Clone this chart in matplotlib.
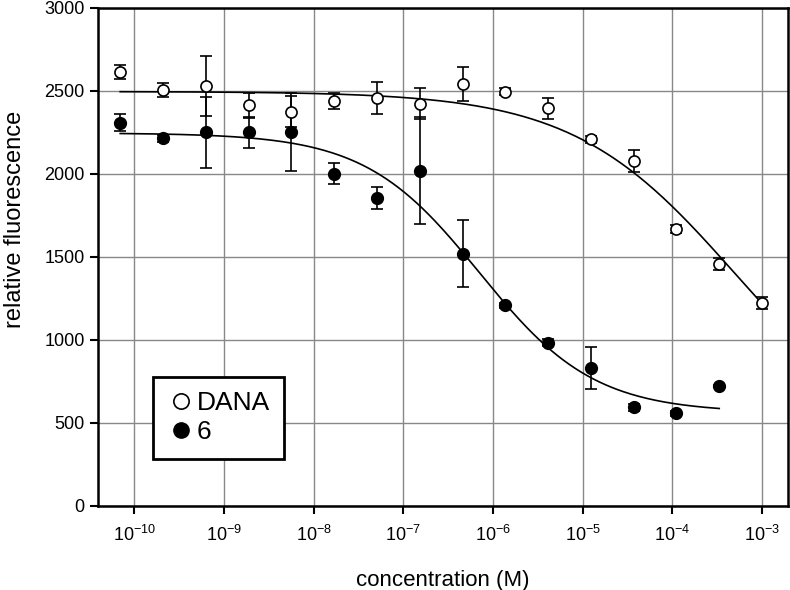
import numpy as np
import matplotlib.pyplot as plt
from matplotlib.lines import Line2D

plt.rcParams['font.family'] = ['Liberation Sans', 'DejaVu Sans']
plt.rcParams['mathtext.fontset'] = 'custom'
plt.rcParams['mathtext.rm'] = 'Liberation Sans'
plt.rcParams['mathtext.default'] = 'regular'

# concentrations (M), 3-fold dilutions
dana_logc = np.log10(1e-3 / 3.0 ** np.arange(15, -1, -1))
six_logc = np.log10(1e-3 / 3.0 ** np.arange(15, 0, -1))

dana_y = [2612, 2504, 2530, 2412, 2374, 2436, 2458, 2422, 2538, 2494, 2394, 2206, 2075, 1665, 1455, 1222]
dana_err = [40, 43, 180, 75, 95, 47, 96, 95, 103, 20, 64, 20, 68, 25, 36, 37]

six_y = [2308, 2212, 2248, 2248, 2252, 2000, 1855, 2018, 1518, 1206, 982, 828, 592, 556, 720]
six_err = [54, 20, 215, 92, 234, 62, 65, 322, 200, 15, 20, 127, 20, 15, 8]

# 4PL fit parameters: top, bottom, log IC50, hill
dana_fit = (2495, 300, -3.3, 0.48)
six_fit = (2245, 560, -6.15, 0.68)


def logistic(x, top, bottom, c, h):
    return bottom + (top - bottom) / (1 + 10 ** ((x - c) * h))


fig = plt.figure(figsize=(7.9, 5.9), dpi=100)
ax = fig.add_axes([0.124, 0.143, 0.8735, 0.844])

x_d = np.linspace(dana_logc[0], dana_logc[-1], 300)
x_s = np.linspace(six_logc[0], six_logc[-1], 300)
ax.plot(10 ** x_d, logistic(x_d, *dana_fit), color='black', lw=1.2, zorder=3)
ax.plot(10 ** x_s, logistic(x_s, *six_fit), color='black', lw=1.2, zorder=3)

ax.errorbar(10 ** dana_logc, dana_y, yerr=dana_err, fmt='o', mfc='white', mec='black',
            mew=1.2, ms=8, ecolor='black', elinewidth=1.2, capsize=4.5, capthick=1.2,
            zorder=4)
ax.errorbar(10 ** six_logc, six_y, yerr=six_err, fmt='o', mfc='black', mec='black',
            ms=8.5, ecolor='black', elinewidth=1.2, capsize=4.5, capthick=1.2,
            zorder=4)

ax.set_xscale('log')
ax.set_xlim(10 ** -10.405, 10 ** -2.71)
ax.set_ylim(0, 3000)
ax.set_xticks([10.0 ** k for k in range(-10, -2)])
ax.set_xticklabels([f'$10^{{{k}}}$' for k in range(-10, -2)])
ax.xaxis.set_minor_locator(plt.NullLocator())
ax.set_yticks(range(0, 3001, 500))
ax.tick_params(axis='both', labelsize=13, length=6, width=1.5, direction='out')
ax.tick_params(axis='x', pad=8)
ax.grid(True, color='#888888', lw=1)
ax.set_axisbelow(True)
for s in ax.spines.values():
    s.set_linewidth(1.8)

ax.set_xlabel('concentration (M)', fontsize=16, labelpad=18)
ax.set_ylabel('relative fluorescence', fontsize=17)
ax.yaxis.set_label_coords(-0.104, 0.574)

handles = [Line2D([], [], ls='none', marker='o', mfc='white', mec='black', mew=1.2, ms=11),
           Line2D([], [], ls='none', marker='o', mfc='black', mec='black', ms=11)]
leg = ax.legend(handles, ['DANA', '6'], loc='lower left', bbox_to_anchor=(0.08, 0.094),
                borderaxespad=0, fontsize=19, frameon=True, fancybox=False, edgecolor='black',
                handletextpad=0.1, borderpad=0.55, handlelength=1.0, labelspacing=0.2,
                framealpha=1)
leg.get_frame().set_linewidth(2)

fig.savefig('out.png', dpi=100)
